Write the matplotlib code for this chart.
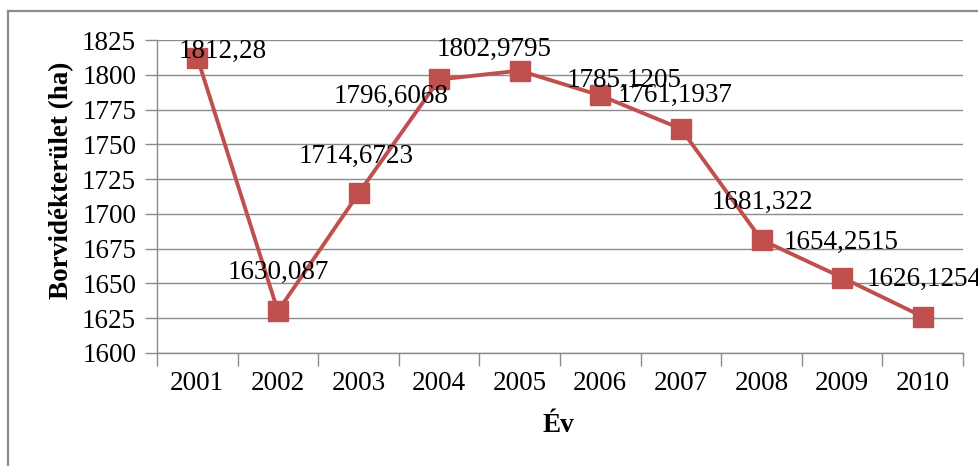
import matplotlib
matplotlib.use('Agg')
import matplotlib.pyplot as plt
from matplotlib.lines import Line2D

# data
years = ['2001', '2002', '2003', '2004', '2005', '2006', '2007', '2008', '2009', '2010']
area_ha = [1812.28, 1630.087, 1714.6723, 1796.6068, 1802.9795,
           1785.1205, 1761.1937, 1681.322, 1654.2515, 1626.1254]
value_labels = ['1812,28', '1630,087', '1714,6723', '1796,6068', '1802,9795',
                '1785,1205', '1761,1937', '1681,322', '1654,2515', '1626,1254']
y_ticks = [1600, 1625, 1650, 1675, 1700, 1725, 1750, 1775, 1800, 1825]

# label offsets from the marker, in pixels (right, up)
label_offsets = [(25, 6), (0, 39), (-2, 37), (-48, -17), (-26, 21),
                 (24, 15), (-6, 33), (1, 37), (-1, 35), (1, 37)]

RED = '#C0504D'
GRID = '#8C8C8C'
FS = 19.5
plt.rcParams['font.family'] = ['Liberation Serif', 'DejaVu Serif']

W, H = 979, 466
fig = plt.figure(figsize=(W / 100, H / 100), dpi=100)
ax = fig.add_axes([157 / W, 1 - 353 / H, (963 - 157) / W, (353 - 40) / H])

x = list(range(len(years)))
ax.plot(x, area_ha, color=RED, linewidth=2.8, marker='s', markersize=15,
        markerfacecolor=RED, markeredgecolor=RED, zorder=3, clip_on=False)

for xi, v, lab, (dx, dy) in zip(x, area_ha, value_labels, label_offsets):
    ax.annotate(lab, (xi, v), xytext=(dx * 0.72, dy * 0.72), textcoords='offset points',
                ha='center', va='center', fontsize=FS, color='black', zorder=4,
                annotation_clip=False)

ax.set_xlim(-0.5, len(years) - 0.5)
ax.set_ylim(1600, 1825)
ax.set_yticks(y_ticks)
ax.set_yticklabels([str(t) for t in y_ticks], fontsize=FS)
ax.set_xticks(x)
ax.set_xticklabels(years, fontsize=FS)
ax.set_xticks([i - 0.5 for i in range(len(years) + 1)], minor=True)
ax.tick_params(axis='x', which='major', length=0, pad=13)
ax.tick_params(axis='x', which='minor', length=9, width=1, color=GRID, direction='out')
ax.tick_params(axis='y', length=9, width=1, color=GRID, direction='out', pad=6)

ax.grid(axis='y', color=GRID, linewidth=1)
ax.set_axisbelow(True)
for side in ['top', 'right']:
    ax.spines[side].set_visible(False)
for side in ['left', 'bottom']:
    ax.spines[side].set_color(GRID)
    ax.spines[side].set_linewidth(1)

fig.text(62 / W, 1 - 180 / H, 'Borvidékterület (ha)', rotation=90, ha='center', va='center',
         fontsize=FS, fontweight='bold')
fig.text(558 / W, 1 - 425 / H, 'Év', ha='center', va='center', fontsize=FS, fontweight='bold')

# outer chart border (only top and left visible in the crop)
fig.add_artist(Line2D([8 / W, 1.0], [1 - 11 / H, 1 - 11 / H], color='#8C8C8C', linewidth=1.6,
                      transform=fig.transFigure))
fig.add_artist(Line2D([8 / W, 8 / W], [1 - 11 / H, 0.0], color='#8C8C8C', linewidth=1.6,
                      transform=fig.transFigure))

fig.savefig('out.png', dpi=100, facecolor='white')
